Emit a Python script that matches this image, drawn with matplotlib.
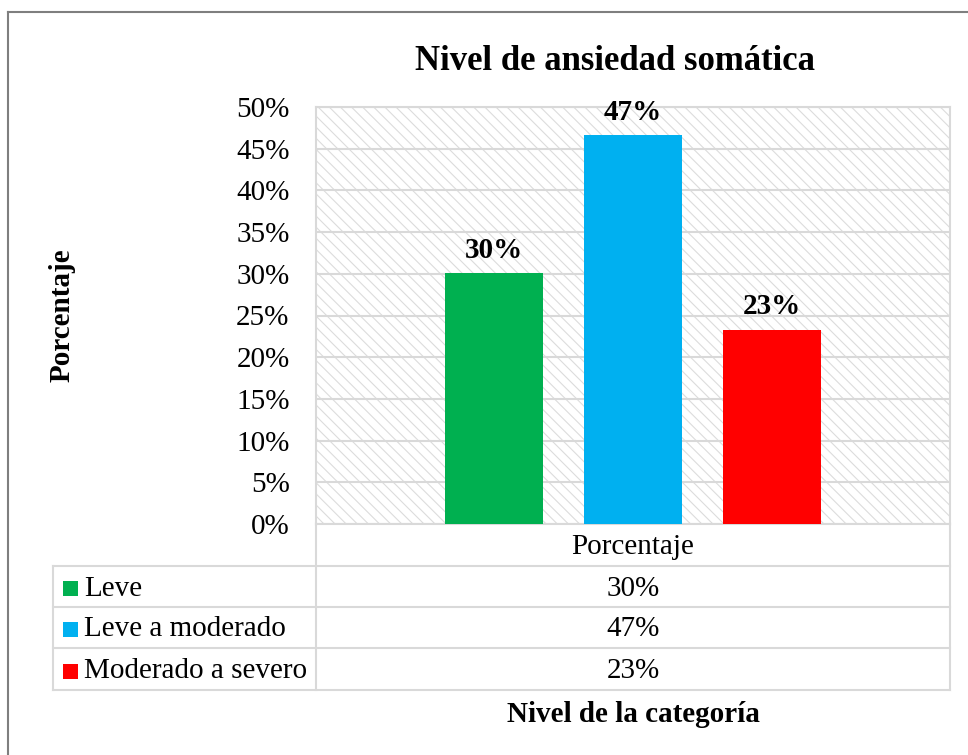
import matplotlib
matplotlib.use("Agg")
import matplotlib.pyplot as plt
from matplotlib.patches import Rectangle
from matplotlib.lines import Line2D

# ---- data ----
title = "Nivel de ansiedad somática"
category = "Porcentaje"
series_names = ["Leve", "Leve a moderado", "Moderado a severo"]
values = [30.1, 46.6, 23.3]
series_colors = ["#00B050", "#00B0F0", "#FF0000"]
yticks = [0, 5, 10, 15, 20, 25, 30, 35, 40, 45, 50]
ylabel = "Porcentaje"
xlabel = "Nivel de la categoría"

W, H = 968, 755
plt.rcParams['font.family'] = ['Liberation Serif', 'DejaVu Serif']
plt.rcParams['hatch.linewidth'] = 0.8
fig = plt.figure(figsize=(W / 100, H / 100), dpi=100)
fig.patch.set_facecolor("white")


def px(x, y):
    return x / W, 1 - y / H


GRID = "#d9d9d9"
# axes in pixel coordinates
L, R, T, B = 316, 950, 107, 524
ax = fig.add_axes([L / W, 1 - B / H, (R - L) / W, (B - T) / H])
ax.set_xlim(-0.5, 0.5)
ax.set_ylim(0, 50)
ax.set_facecolor("white")

# hatched background
bg = Rectangle((0, 0), 1, 1, transform=ax.transAxes, facecolor="white",
               edgecolor="#dcdcdc", linewidth=0, hatch="\\\\\\", zorder=0)
ax.add_patch(bg)

ax.set_yticks(yticks)
ax.set_yticklabels([f"{t}%" for t in yticks], fontsize=21)
ax.tick_params(axis="y", length=0, pad=19)
ax.set_xticks([])
ax.yaxis.grid(True, color=GRID, linewidth=1.5, zorder=1)
ax.set_axisbelow(True)
for s in ax.spines.values():
    s.set_color(GRID)
    s.set_linewidth(1.5)

n = len(values)
step = 0.219
width = 0.155
for i, (v, c) in enumerate(zip(values, series_colors)):
    xpos = (i - (n - 1) / 2) * step
    ax.bar(xpos, v, width=width, color=c, zorder=3)
    ax.annotate(f"{v:.0f}%", (xpos, v), xytext=(0, 11), textcoords="offset points",
                ha="center", va="baseline", fontsize=21, fontweight="bold", zorder=4)

# table below the plot
TL = 53
rows_y = [524, 566, 607, 648, 690]
lw = 1.5
def hline(x0, x1, y):
    fig.add_artist(Line2D([x0 / W, x1 / W], [1 - y / H, 1 - y / H], color=GRID, lw=lw))
def vline(x, y0, y1):
    fig.add_artist(Line2D([x / W, x / W], [1 - y0 / H, 1 - y1 / H], color=GRID, lw=lw))

for y in rows_y[1:]:
    hline(TL, R, y)
vline(TL, rows_y[1], rows_y[-1])
vline(L, rows_y[0], rows_y[-1])
vline(R, rows_y[0], rows_y[-1])

cx = (L + R) / 2
fig.text(*px(cx, (rows_y[0] + rows_y[1]) / 2 + 2), category, ha="center", va="center", fontsize=21)
for i, (name, v, c) in enumerate(zip(series_names, values, series_colors)):
    yc = (rows_y[i + 1] + rows_y[i + 2]) / 2 + 2
    fig.add_artist(Rectangle(px(63, yc + 7.5), 15 / W, 15 / H, transform=fig.transFigure,
                             facecolor=c, edgecolor="none"))
    fig.text(*px(84, yc), name, ha="left", va="center", fontsize=21)
    fig.text(*px(cx, yc), f"{v:.0f}%", ha="center", va="center", fontsize=21)

# titles
fig.text(*px(615, 62), title, ha="center", va="center", fontsize=25, fontweight="bold")
fig.text(*px(62, 315), ylabel, ha="center", va="center", rotation=90, fontsize=21, fontweight="bold")
fig.text(*px(633, 714), xlabel, ha="center", va="center", fontsize=21, fontweight="bold")

# outer chart border
BORDER = "#7f7f7f"
fig.add_artist(Line2D([8 / W, 1.0], [1 - 12 / H, 1 - 12 / H], color=BORDER, lw=1.5))
fig.add_artist(Line2D([8 / W, 8 / W], [1 - 12 / H, 0], color=BORDER, lw=1.5))

fig.savefig("out.png", dpi=100, facecolor="white")
